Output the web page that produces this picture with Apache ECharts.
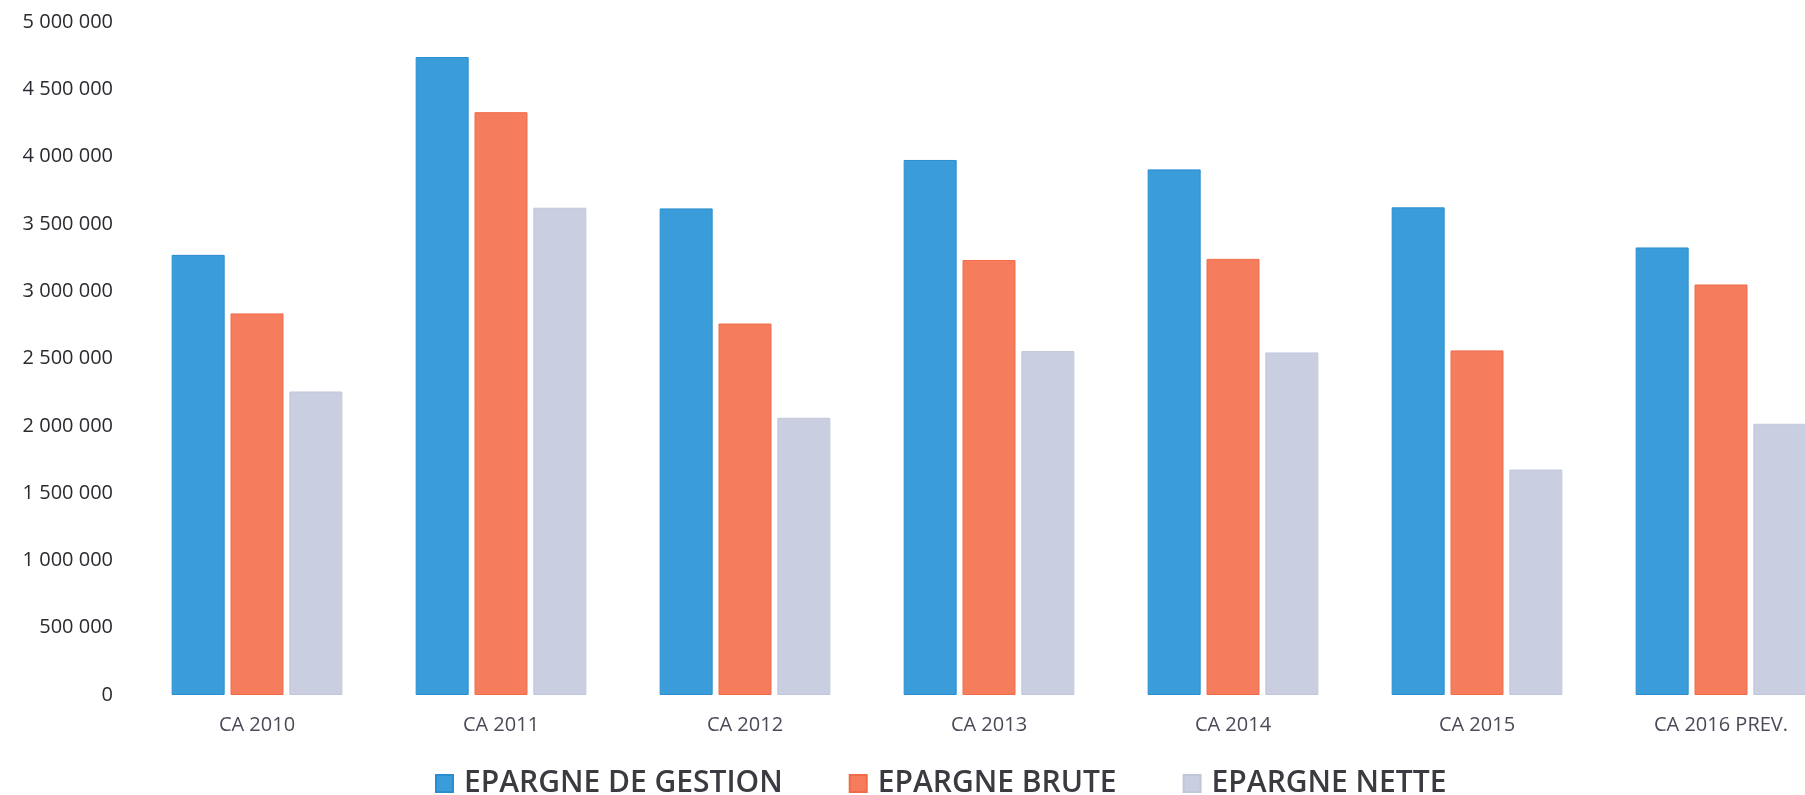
<!DOCTYPE html>
<html>
<head>
<meta charset="utf-8">
<title>Epargne</title>
<script src="https://cdn.jsdelivr.net/npm/echarts@6/dist/echarts.min.js"></script>
<style>
  html, body { margin: 0; padding: 0; background: #ffffff; }
  #chart { width: 1805px; height: 795px; }
</style>
</head>
<body>
<div id="chart"></div>
<script>
// Exercices (comptes administratifs) et prévision 2016
const categories = ['CA 2010', 'CA 2011', 'CA 2012', 'CA 2013', 'CA 2014', 'CA 2015', 'CA 2016 PREV.'];

// Montants en euros
const epargneGestion = [3270000, 4740000, 3615000, 3975000, 3905000, 3623000, 3325000];
const epargneBrute   = [2835000, 4330000, 2760000, 3232000, 3240000, 2560000, 3050000];
const epargneNette   = [2255000, 3620000, 2060000, 2555000, 2545000, 1675000, 2015000];

const seriesNames = ['EPARGNE DE GESTION', 'EPARGNE BRUTE', 'EPARGNE NETTE'];
const seriesColors = ['#3b9cda', '#f57c5c', '#cacee1'];
const seriesBorders = ['#2a8dcf', '#f06c48', '#c2c6da'];

// Séparateur de milliers par espace : 4 500 000
function formatThousands(v) {
  return String(v).replace(/\B(?=(\d{3})+(?!\d))/g, ' ');
}

const font = '"Open Sans", "Noto Sans", sans-serif';

const chart = echarts.init(document.getElementById('chart'), null, { renderer: 'canvas' });

const seriesData = [epargneGestion, epargneBrute, epargneNette];

chart.setOption({
  backgroundColor: '#ffffff',
  animation: false,
  // la dernière catégorie déborde à droite du cadre
  grid: { left: 135, top: 22, width: 1708, height: 673, containLabel: false, outerBoundsMode: 'none' },
  legend: {
    data: seriesNames,
    left: 435,
    top: 768,
    padding: 0,
    itemWidth: 17,
    itemHeight: 17,
    itemGap: 66,
    icon: 'rect',
    textStyle: {
      fontFamily: font,
      fontSize: 30,
      fontWeight: 600,
      lineHeight: 31,
      color: '#3a3a40',
      padding: [0, 0, 0, 6]
    }
  },
  xAxis: {
    type: 'category',
    data: categories,
    axisLine: { show: false },
    axisTick: { show: false },
    axisLabel: {
      fontFamily: font,
      fontSize: 20,
      color: '#4a4a58',
      margin: 20
    }
  },
  yAxis: {
    type: 'value',
    min: 0,
    max: 5000000,
    interval: 500000,
    axisLine: { show: false },
    axisTick: { show: false },
    splitLine: { show: false },
    axisLabel: {
      fontFamily: font,
      fontSize: 20,
      color: '#2a2a30',
      margin: 22,
      formatter: formatThousands
    }
  },
  series: seriesNames.map((name, i) => ({
    name: name,
    type: 'bar',
    data: seriesData[i],
    barWidth: 53,
    barGap: '11%',
    itemStyle: {
      color: seriesColors[i],
      borderColor: seriesBorders[i],
      borderWidth: 1
    }
  }))
});
</script>
</body>
</html>
